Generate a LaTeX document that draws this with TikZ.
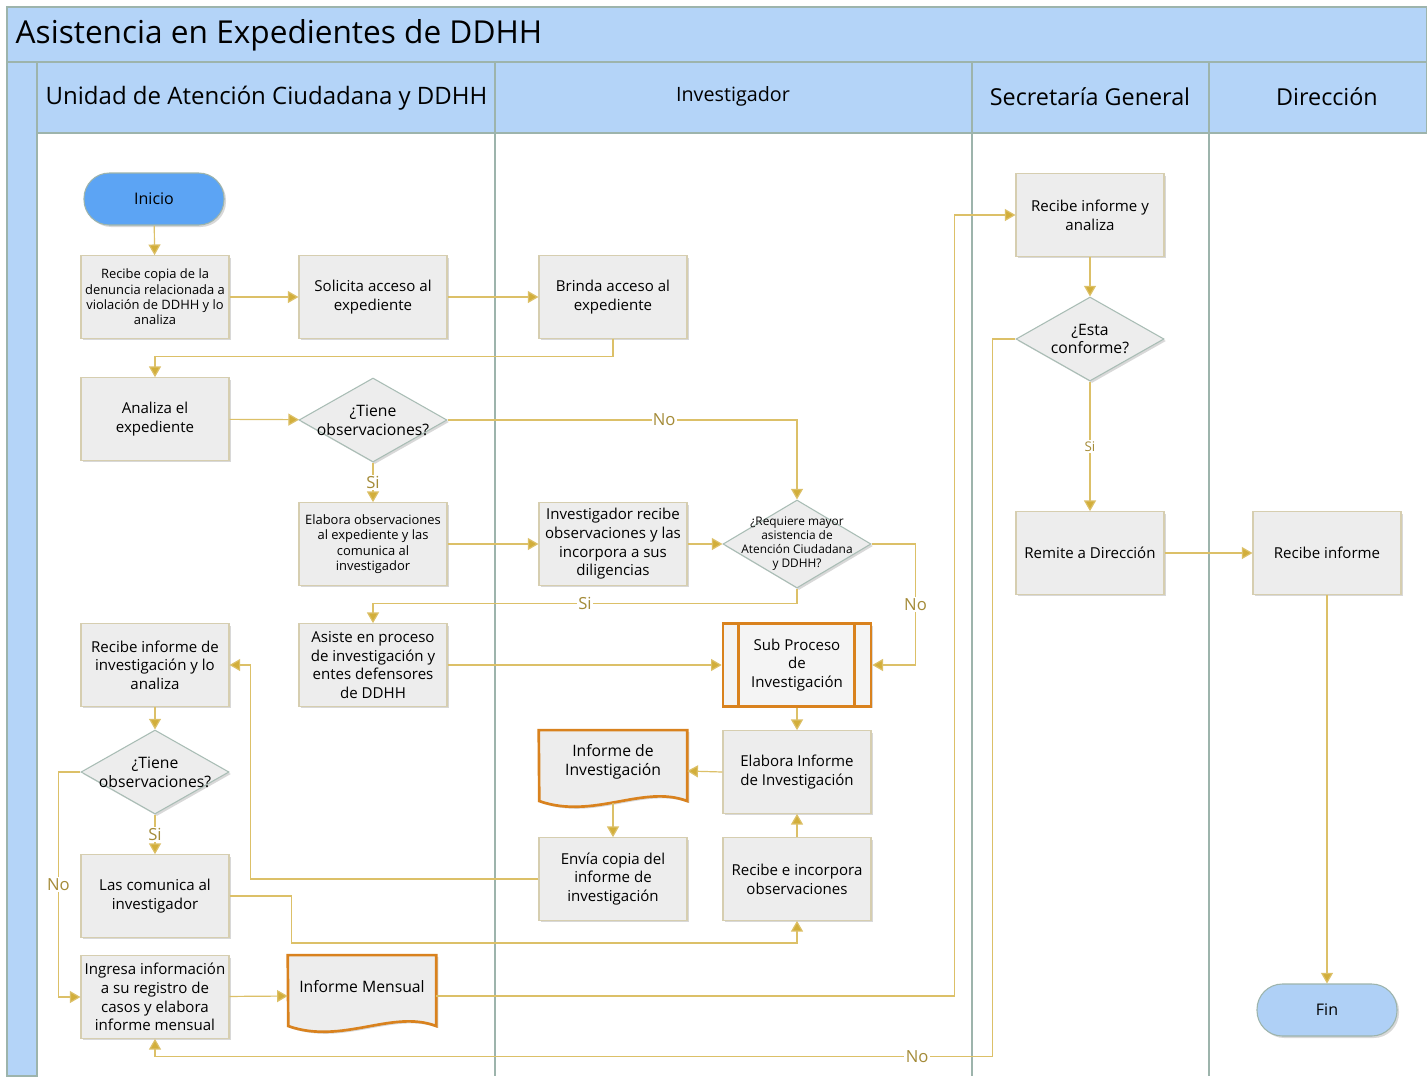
\documentclass[tikz,border=0pt]{standalone}
\usepackage{fontspec}
\setmainfont{Open Sans}
\usetikzlibrary{shapes.geometric,arrows.meta,shadows}

\definecolor{carril}{HTML}{B4D4F8}
\definecolor{linea}{HTML}{9DB4AC}
\definecolor{caja}{HTML}{EDEDED}
\definecolor{bordecaja}{HTML}{D6CEB0}
\definecolor{bordedec}{HTML}{A9BDB5}
\definecolor{naranja}{HTML}{D9821E}
\definecolor{oro}{HTML}{DCC068}
\definecolor{punta}{HTML}{D2AE3A}
\definecolor{etiqueta}{HTML}{A48B38}
\definecolor{inicioazul}{HTML}{5CA4F4}
\definecolor{finazul}{HTML}{AFD0F6}

\tikzset{
  sombra/.style={drop shadow={shadow xshift=1.5pt,shadow yshift=-1.5pt,opacity=0.25,fill=black!60}},
  paso/.style={rectangle, draw=bordecaja, fill=caja, line width=0.8pt, sombra,
    minimum width=111pt, minimum height=62pt, inner sep=1pt, align=center,
    font=\fontsize{11.3}{14}\selectfont},
  pasochico/.style={paso, font=\fontsize{9.7}{11.5}\selectfont},
  decision/.style={diamond, draw=bordedec, fill=caja, line width=0.8pt, sombra,
    minimum width=111pt, minimum height=63pt, inner sep=0pt},
  dectxt/.style={align=center, font=\fontsize{11.8}{14}\selectfont},
  terminal/.style={rectangle, rounded corners=19pt, draw=linea, line width=0.8pt, sombra,
    minimum width=105pt, minimum height=39pt, font=\fontsize{12}{14}\selectfont},
  docu/.style={rectangle, minimum width=111pt, minimum height=61pt, inner sep=0pt},
  doctxt/.style={align=center, font=\fontsize{11.8}{14}\selectfont},
  subp/.style={paso, draw=naranja, line width=2pt, fill=caja!60},
  flecha/.style={draw=oro, line width=0.9pt, -{Triangle[length=8pt,width=9pt,fill=punta]}},
  lbl/.style={fill=white, text=etiqueta, inner sep=1pt, font=\fontsize{12.5}{14}\selectfont},
  lblchico/.style={lbl, font=\fontsize{10}{11}\selectfont},
  cabecera/.style={font=\fontsize{17.5}{20}\selectfont}
}

% hoja con borde ondulado abajo
\newcommand\hoja[1]{%
  \filldraw[fill=caja, draw=naranja, line width=2pt, sombra]
    (#1.north west) -- (#1.north east) -- ++(0,71)
    .. controls +(-44,-17) and +(54,19) .. ++(-148,0) -- cycle;}

\begin{document}
\begin{tikzpicture}[x=0.75pt,y=-0.75pt]
\useasboundingbox (0,0) rectangle (1427,1076);
\fill[white] (0,0) rectangle (1427,1076);

% carriles
\filldraw[fill=carril, draw=linea, line width=1pt] (7,7) rectangle (1427,62);
\filldraw[fill=carril, draw=linea, line width=1pt] (7,62) rectangle (37,1076);
\filldraw[fill=carril, draw=linea, line width=1pt] (37,62) rectangle (1427,133);
\foreach \xc in {37,495,972,1209}
  \draw[linea, line width=1.3pt] (\xc,62) -- (\xc,1076);

\node[anchor=west, font=\fontsize{23.7}{26}\selectfont] (titulo) at (11,35) {Asistencia en Expedientes de DDHH};
\node[anchor=west, font=\fontsize{18}{20}\selectfont] (uac) at (41,98) {Unidad de Atención Ciudadana y DDHH};
\node[font=\fontsize{14.8}{16}\selectfont] (inv) at (733,96) {Investigador};
\node[cabecera] (sg) at (1090,97) {Secretaría General};
\node[cabecera] (dir) at (1327,97) {Dirección};

% Unidad de Atencion Ciudadana
\node[terminal, fill=inicioazul] (inicio) at (154,199) {Inicio};
\node[pasochico] (copia) at (155,297) {Recibe copia de la\\denuncia relacionada a\\violación de DDHH y lo\\analiza};
\node[paso] (solicita) at (373,297) {Solicita acceso al\\expediente};
\node[paso] (analiza) at (155,419) {Analiza el\\expediente};
\node[decision, label={[dectxt]center:{¿Tiene\\observaciones?}}] (tiene) at (373,420) {};
\node[pasochico] (elabora) at (373,544) {Elabora observaciones\\al expediente y las\\comunica al\\investigador};
\node[paso] (asiste) at (373,665) {Asiste en proceso\\de investigación y\\entes defensores\\de DDHH};
\node[paso] (recibeinv) at (155,665) {Recibe informe de\\investigación y lo\\analiza};
\node[decision, label={[dectxt]center:{¿Tiene\\observaciones?}}] (tienedos) at (155,772) {};
\node[paso] (comunica) at (155,896) {Las comunica al\\investigador};
\node[paso] (ingresa) at (155,997) {Ingresa información\\a su registro de\\casos y elabora\\informe mensual};
\node[docu] (mensual) at (362,996) {};
\hoja{mensual}
\node[doctxt] (mensualtxt) at (362,987) {Informe Mensual};

% Investigador
\node[paso] (brinda) at (613,297) {Brinda acceso al\\expediente};
\node[paso] (invrecibe) at (613,544) {Investigador recibe\\observaciones y las\\incorpora a sus\\diligencias};
\node[decision, minimum height=66pt,
  label={[align=center, font=\fontsize{8.9}{10.5}\selectfont]center:{¿Requiere mayor\\asistencia de\\Atención Ciudadana\\y DDHH?}}] (requiere) at (797,544) {};
\node[subp] (subproc) at (797,665) {Sub Proceso\\de\\Investigación};
\draw[naranja, line width=2pt] ([xshift=12.75pt]subproc.north west) -- ([xshift=12.75pt]subproc.south west);
\draw[naranja, line width=2pt] ([xshift=-13.5pt]subproc.north east) -- ([xshift=-13.5pt]subproc.south east);
\node[paso] (elaborainf) at (797,772) {Elabora Informe\\de Investigación};
\node[docu] (infinv) at (613,771) {};
\hoja{infinv}
\node[doctxt] (infinvtxt) at (613,762) {Informe de\\Investigación};
\node[paso] (envia) at (613,879) {Envía copia del\\informe de\\investigación};
\node[paso] (incorpora) at (797,879) {Recibe e incorpora\\observaciones};

% Secretaria General y Direccion
\node[paso] (analizasg) at (1090,215) {Recibe informe y\\analiza};
\node[decision, label={[dectxt]center:{¿Esta\\conforme?}}] (conforme) at (1090,339) {};
\node[paso] (remite) at (1090,553) {Remite a Dirección};
\node[paso] (dirrecibe) at (1327,553) {Recibe informe};
\node[terminal, fill=finazul] (fin) at (1327,1010) {Fin};

% conectores
\draw[flecha] (inicio) -- (copia);
\draw[flecha] (copia) -- (solicita);
\draw[flecha] (solicita) -- (brinda);
\draw[flecha] (brinda.south) -- ++(0,18) -| (analiza.north);
\draw[flecha] (analiza) -- (tiene);
\draw[flecha] (tiene.east) -| node[lbl, pos=0.31] {No} (requiere.north);
\draw[flecha] (tiene) -- node[lbl] {Si} (elabora);
\draw[flecha] (elabora) -- (invrecibe);
\draw[flecha] (invrecibe) -- (requiere);
\draw[flecha] (requiere.south) -- ++(0,15) -| node[lbl, pos=0.25] {Si} (asiste.north);
\draw[flecha] (requiere.east) -- ++(44,0) |- node[lbl, pos=0.25] {No} (subproc.east);
\draw[flecha] (asiste) -- (subproc);
\draw[flecha] (subproc) -- (elaborainf);
\draw[flecha] (elaborainf.west) -- (infinv.east);
\draw[flecha] ([yshift=7pt]infinv.south) -- (envia);
\draw[flecha] (envia.west) -| ([xshift=15.75pt]recibeinv.east) -- (recibeinv.east);
\draw[flecha] (recibeinv) -- (tienedos);
\draw[flecha] (tienedos) -- node[lbl] {Si} (comunica);
\draw[flecha] (tienedos.west) -- ++(-22,0) |- node[lbl, pos=0.25] {No} (ingresa.west);
\draw[flecha] (comunica.east) -| ++(62,47) -| (incorpora.south);
\draw[flecha] (incorpora) -- (elaborainf);
\draw[flecha] (ingresa) -- (mensual.west);
\draw[flecha] (mensual.east) -- ++(518,0) |- (analizasg.west);
\draw[flecha] (analizasg) -- (conforme);
\draw[flecha] (conforme) -- node[lblchico] {Si} (remite);
\draw[flecha] (conforme.west) -- ++(-23,0) |- node[lbl, pos=0.545] {No} ([yshift=-13.5pt]ingresa.south) -- (ingresa.south);
\draw[flecha] (remite) -- (dirrecibe);
\draw[flecha] (dirrecibe) -- (fin);
\end{tikzpicture}
\end{document}
